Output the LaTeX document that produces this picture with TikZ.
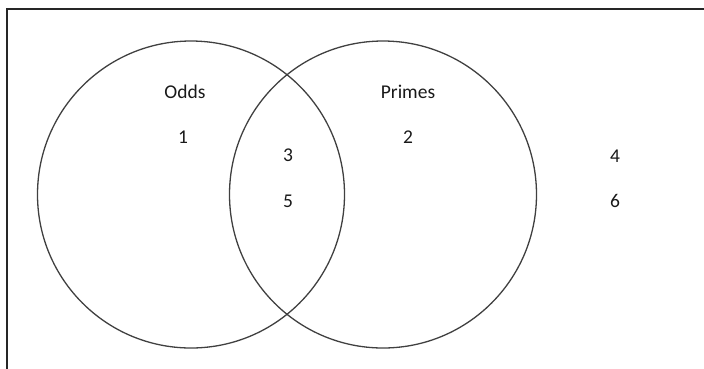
\documentclass[tikz,border=0pt]{standalone}
\usepackage{fontspec}
\setmainfont{Carlito}
\begin{document}
\begin{tikzpicture}[x=1pt,y=-1pt,
  setcircle/.style={draw=black!75,line width=1.3pt},
  lbl/.style={text=black!90,font=\fontsize{19.5}{22}\selectfont,inner sep=0pt,anchor=center}]
\useasboundingbox (0,0) rectangle (704,368);
\draw[line width=2pt,black!85] (7,380) -- (7,9) -- (715,9);
\node[setcircle,circle,minimum size=307pt,inner sep=0pt] (odds) at (191,194.5) {};
\node[setcircle,circle,minimum size=307pt,inner sep=0pt] (primes) at (383,194.5) {};
\node[lbl] (lo) at (185,92) {Odds};
\node[lbl] (lp) at (408,92) {Primes};
\node[lbl] (n1) at (183,137) {1};
\node[lbl] (n2) at (408,137) {2};
\node[lbl] (n3) at (288,155) {3};
\node[lbl] (n5) at (288,201) {5};
\node[lbl] (n4) at (615,156) {4};
\node[lbl] (n6) at (615,201) {6};
\end{tikzpicture}
\end{document}
